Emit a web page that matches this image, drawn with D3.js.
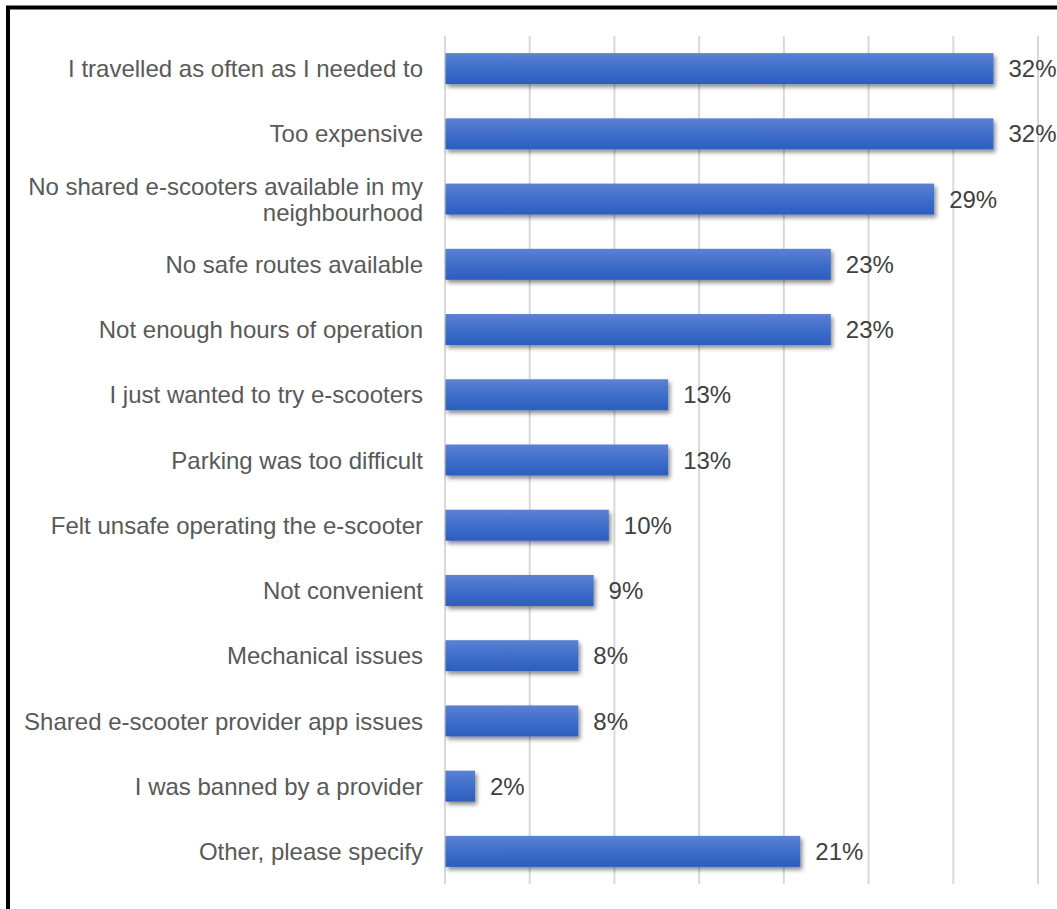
<!DOCTYPE html>
<html>
<head>
<meta charset="utf-8">
<script src="https://cdn.jsdelivr.net/npm/d3@7"></script>
<style>
  html, body { margin: 0; padding: 0; background: #fff; }
  svg { display: block; }
</style>
</head>
<body>
<svg id="chart" width="1057" height="909"></svg>
<script>
// ---- Data ----
const categories = [
  "I travelled as often as I needed to",
  "Too expensive",
  "No shared e-scooters available in my neighbourhood",
  "No safe routes available",
  "Not enough hours of operation",
  "I just wanted to try e-scooters",
  "Parking was too difficult",
  "Felt unsafe operating the e-scooter",
  "Not convenient",
  "Mechanical issues",
  "Shared e-scooter provider app issues",
  "I was banned by a provider",
  "Other, please specify"
];
const values = [32.4, 32.4, 28.9, 22.8, 22.8, 13.2, 13.2, 9.7, 8.8, 7.9, 7.9, 1.8, 21.0];
const valueLabels = ["32%", "32%", "29%", "23%", "23%", "13%", "13%", "10%", "9%", "8%", "8%", "2%", "21%"];
const xTicks = [0, 5, 10, 15, 20, 25, 30, 35];

// ---- Layout ----
const svg = d3.select("#chart");
const plotLeft = 444.5, plotRight = 1037.5, plotTop = 36, plotBottom = 884;
const fontFamily = "'Liberation Sans', Arial, sans-serif";
const fontSize = 24;

const x = d3.scaleLinear().domain([0, 35]).range([plotLeft, plotRight]);
const y = d3.scaleBand().domain(categories).range([plotTop, plotBottom]).paddingInner(0.525).paddingOuter(0.2625);

// frame
svg.append("rect")
  .attr("x", 8).attr("y", 7.5)
  .attr("width", 1200).attr("height", 1100)
  .attr("fill", "none").attr("stroke", "#000").attr("stroke-width", 4);

const defs = svg.append("defs");
const grad = defs.append("linearGradient").attr("id", "barGrad")
  .attr("x1", 0).attr("y1", 0).attr("x2", 0).attr("y2", 1);
grad.append("stop").attr("offset", "0%").attr("stop-color", "#5c81d2");
grad.append("stop").attr("offset", "50%").attr("stop-color", "#3f6ecb");
grad.append("stop").attr("offset", "100%").attr("stop-color", "#2c5ebf");

const shadow = defs.append("filter").attr("id", "shadow")
  .attr("x", "-10%").attr("y", "-30%").attr("width", "130%").attr("height", "190%");
shadow.append("feDropShadow")
  .attr("dx", 2).attr("dy", 3).attr("stdDeviation", 2)
  .attr("flood-color", "#000").attr("flood-opacity", 0.45);

// gridlines
const xAxis = d3.axisBottom(x).tickValues(xTicks).tickSize(-(plotBottom - plotTop)).tickFormat("");
const gAxis = svg.append("g").attr("transform", `translate(0,${plotBottom})`).call(xAxis);
gAxis.select(".domain").remove();
gAxis.selectAll(".tick line").attr("stroke", "#d9d9d9").attr("stroke-width", 2);

// bars
svg.append("g").selectAll("rect")
  .data(categories)
  .join("rect")
  .attr("x", x(0) + 1)
  .attr("y", d => y(d))
  .attr("width", (d, i) => x(values[i]) - x(0) - 1)
  .attr("height", y.bandwidth())
  .attr("fill", "url(#barGrad)")
  .attr("filter", "url(#shadow)");

// value labels
svg.append("g").selectAll("text")
  .data(categories)
  .join("text")
  .attr("x", (d, i) => x(values[i]) + 15)
  .attr("y", d => y(d) + y.bandwidth() / 2)
  .attr("dy", "0.36em")
  .attr("font-family", fontFamily)
  .attr("font-size", fontSize)
  .attr("fill", "#404040")
  .text((d, i) => valueLabels[i]);

// category labels (with wrapping)
const maxW = 415;
const catG = svg.append("g");
categories.forEach(c => {
  const t = catG.append("text")
    .attr("x", 423)
    .attr("text-anchor", "end")
    .attr("font-family", fontFamily)
    .attr("font-size", fontSize)
    .attr("fill", "#595959");
  const words = c.split(" ");
  const lines = [];
  let cur = [];
  const probe = t.append("tspan");
  words.forEach(w => {
    const test = cur.concat([w]).join(" ");
    probe.text(test);
    if (probe.node().getComputedTextLength() > maxW && cur.length) {
      lines.push(cur.join(" "));
      cur = [w];
    } else {
      cur.push(w);
    }
  });
  lines.push(cur.join(" "));
  probe.remove();
  const cy = y(c) + y.bandwidth() / 2;
  const lh = 26;
  lines.forEach((ln, k) => {
    t.append("tspan")
      .attr("x", 423)
      .attr("y", cy + (k - (lines.length - 1) / 2) * lh)
      .attr("dy", "0.36em")
      .text(ln);
  });
});
</script>
</body>
</html>
